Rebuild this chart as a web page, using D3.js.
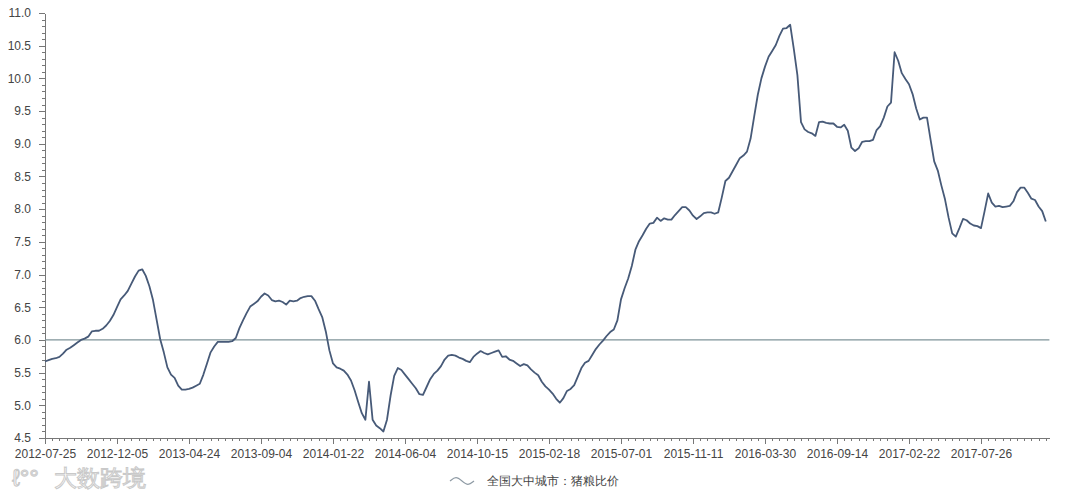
<!DOCTYPE html>
<meta charset="utf-8">
<style>
  body { margin: 0; background: #fff; }
  svg { display: block; }
  text { font-family: "Liberation Sans", Arial, sans-serif; }
  .axis path, .axis line { stroke: #777; shape-rendering: crispEdges; }
  .axis text { font-size: 12px; fill: #444; }
</style>
<body>
<script src="https://d3js.org/d3.v7.min.js"></script>
<script>

// weekly observations (index 0 = 2012-07-25)
var ratio = [
  5.67, 5.69, 5.71, 5.72, 5.74, 5.79, 5.85, 5.88, 5.92, 5.96,
  6.00, 6.02, 6.05, 6.13, 6.14, 6.14, 6.17, 6.22, 6.29, 6.38,
  6.50, 6.62, 6.68, 6.75, 6.86, 6.97, 7.06, 7.08, 6.98, 6.82,
  6.61, 6.31, 6.01, 5.81, 5.58, 5.47, 5.42, 5.30, 5.24, 5.24,
  5.25, 5.27, 5.30, 5.33, 5.47, 5.64, 5.81, 5.90, 5.97, 5.97,
  5.97, 5.97, 5.98, 6.03, 6.18, 6.30, 6.41, 6.51, 6.55, 6.59,
  6.66, 6.71, 6.68, 6.61, 6.59, 6.60, 6.58, 6.54, 6.60, 6.59,
  6.60, 6.64, 6.66, 6.67, 6.67, 6.60, 6.47, 6.35, 6.13, 5.84,
  5.64, 5.58, 5.56, 5.53, 5.47, 5.38, 5.23, 5.05, 4.88, 4.78,
  5.36, 4.78, 4.69, 4.65, 4.60, 4.78, 5.15, 5.45, 5.57, 5.54,
  5.47, 5.40, 5.33, 5.26, 5.17, 5.16, 5.28, 5.40, 5.48, 5.53,
  5.60, 5.70, 5.76, 5.77, 5.76, 5.73, 5.71, 5.68, 5.66, 5.74,
  5.79, 5.83, 5.80, 5.78, 5.80, 5.82, 5.84, 5.74, 5.75, 5.70,
  5.68, 5.64, 5.60, 5.63, 5.61, 5.55, 5.50, 5.46, 5.36, 5.29,
  5.24, 5.18, 5.10, 5.04, 5.11, 5.22, 5.25, 5.31, 5.44, 5.57,
  5.65, 5.68, 5.77, 5.86, 5.93, 5.99, 6.06, 6.12, 6.16, 6.30,
  6.62, 6.79, 6.94, 7.13, 7.38, 7.51, 7.60, 7.70, 7.78, 7.79,
  7.87, 7.82, 7.86, 7.84, 7.84, 7.91, 7.97, 8.03, 8.03, 7.98,
  7.90, 7.85, 7.89, 7.94, 7.95, 7.95, 7.93, 7.95, 8.18, 8.43,
  8.48, 8.58, 8.68, 8.78, 8.82, 8.88, 9.08, 9.42, 9.75, 10.00,
  10.18, 10.33, 10.42, 10.51, 10.65, 10.76, 10.77, 10.82, 10.45, 10.05,
  9.33, 9.22, 9.18, 9.16, 9.12, 9.33, 9.34, 9.32, 9.31, 9.31,
  9.26, 9.25, 9.29, 9.20, 8.94, 8.89, 8.93, 9.03, 9.04, 9.04,
  9.06, 9.21, 9.27, 9.40, 9.57, 9.63, 10.40, 10.27, 10.08, 9.99,
  9.91, 9.76, 9.54, 9.37, 9.40, 9.40, 9.06, 8.73, 8.59, 8.36,
  8.15, 7.87, 7.63, 7.58, 7.71, 7.85, 7.83, 7.78, 7.75, 7.74,
  7.71, 7.97, 8.24, 8.10, 8.04, 8.05, 8.03, 8.04, 8.05, 8.12,
  8.26, 8.33, 8.33, 8.25, 8.16, 8.14, 8.04, 7.97, 7.81
];

// labelled weeks, one every 20 observations
var tickLabels = ["2012-07-25", "2012-12-05", "2013-04-24", "2013-09-04", "2014-01-22",
  "2014-06-04", "2014-10-15", "2015-02-18", "2015-07-01", "2015-11-11",
  "2016-03-30", "2016-09-14", "2017-02-22", "2017-07-26"];
var yTicks = [4.5, 5.0, 5.5, 6.0, 6.5, 7.0, 7.5, 8.0, 8.5, 9.0, 9.5, 10.0, 10.5, 11.0];
var refLevel = 6.0;
var seriesName = "全国大中城市：猪粮比价";

var width = 1080, height = 495;
var svg = d3.select("body").append("svg").attr("width", width).attr("height", height);

var x = d3.scaleLinear().domain([0, 279]).range([45, 1049.4]);
var y = d3.scaleLinear().domain([4.5, 11]).range([438, 13]);

// minor ticks first, then major with labels
svg.append("g").attr("class", "axis").attr("transform", "translate(0,438)")
  .call(d3.axisBottom(x).tickValues(d3.range(0, 280, 2)).tickSize(3).tickFormat(""))
  .call(function(g) { g.select(".domain").remove(); });
svg.append("g").attr("class", "axis").attr("transform", "translate(0,438)")
  .call(d3.axisBottom(x).tickValues(d3.range(0, 280, 20)).tickSize(6).tickSizeOuter(0)
    .tickFormat(function(d) { return tickLabels[d / 20]; }))
  .call(function(g) { g.selectAll("text").attr("dy", "0.95em"); });

svg.append("g").attr("class", "axis").attr("transform", "translate(45,0)")
  .call(d3.axisLeft(y).tickValues(d3.range(45, 111, 1).map(function(d) { return d / 10; }))
    .tickSize(3).tickFormat(""))
  .call(function(g) { g.select(".domain").remove(); });
svg.append("g").attr("class", "axis").attr("transform", "translate(45,0)")
  .call(d3.axisLeft(y).tickValues(yTicks).tickSize(6).tickSizeOuter(0).tickFormat(d3.format(".1f")))
  .call(function(g) { g.selectAll("text").attr("x", -14); });

// 6.0 reference line
svg.append("line")
  .attr("x1", x(0)).attr("x2", x(279))
  .attr("y1", y(refLevel)).attr("y2", y(refLevel))
  .attr("stroke", "#7f9399").attr("stroke-width", 1.2);

var line = d3.line()
  .x(function(d, i) { return x(i); })
  .y(function(d) { return y(d); });

svg.append("path")
  .datum(ratio)
  .attr("fill", "none")
  .attr("stroke", "#475a78")
  .attr("stroke-width", 1.8)
  .attr("stroke-linejoin", "round")
  .attr("d", line);

// legend
var lg = svg.append("g").attr("transform", "translate(450,481)");
lg.append("path")
  .attr("d", d3.line().curve(d3.curveBasis)([[0, 0], [6, -5], [12, 0], [18, 5], [24, 0]]))
  .attr("fill", "none").attr("stroke", "#8e9aa4").attr("stroke-width", 1.2);
lg.append("text").attr("x", 37).attr("y", 4)
  .attr("font-size", 12).attr("fill", "#444").text(seriesName);

// watermark
var wm = svg.append("g").attr("transform", "translate(12,486)");
wm.append("text").attr("x", 0).attr("y", 0)
  .attr("font-size", 24).attr("fill", "#fff").attr("stroke", "#c9c9c9").attr("stroke-width", 1)
  .attr("font-family", "Noto Sans CJK SC").text("ℓ°°");
wm.append("text").attr("x", 42).attr("y", 0)
  .attr("font-size", 23).attr("fill", "#fff").attr("stroke", "#c9c9c9").attr("stroke-width", 1)
  .attr("font-family", "Noto Sans CJK SC").text("大数跨境");

</script>
</body>
